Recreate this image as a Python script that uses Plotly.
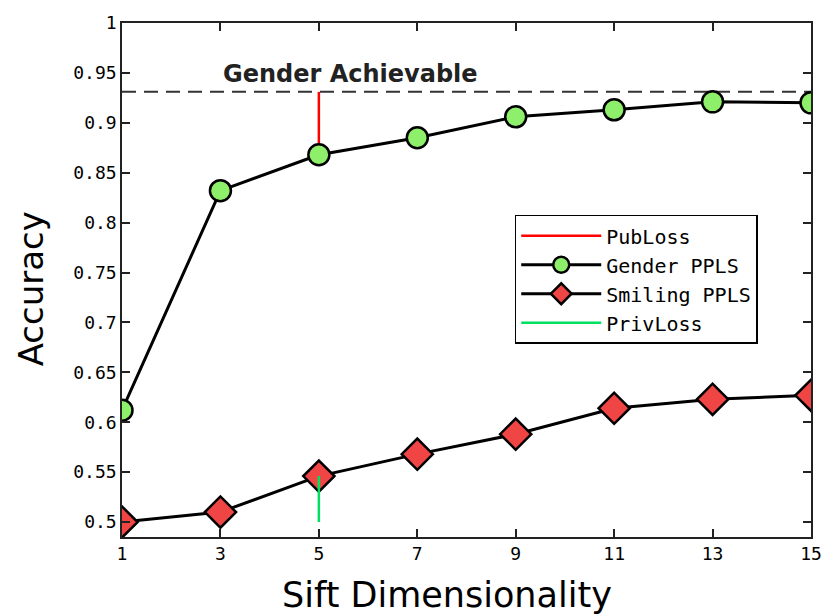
import plotly.graph_objects as go

dims = [1, 3, 5, 7, 9, 11, 13, 15]
gender_ppls = [0.612, 0.832, 0.868, 0.885, 0.906, 0.913, 0.921, 0.920]
smiling_ppls = [0.500, 0.510, 0.546, 0.568, 0.588, 0.614, 0.623, 0.627]
gender_achievable = 0.931
loss_dim = 5
smiling_floor = 0.5
x_ticks = [1, 3, 5, 7, 9, 11, 13, 15]
y_ticks = [0.5, 0.55, 0.6, 0.65, 0.7, 0.75, 0.8, 0.85, 0.9, 0.95, 1.0]
y_tick_text = ["0.5", "0.55", "0.6", "0.65", "0.7", "0.75", "0.8", "0.85", "0.9", "0.95", "1"]

idx = dims.index(loss_dim)

fig = go.Figure()

fig.add_trace(go.Scatter(x=[dims[0], dims[-1]], y=[gender_achievable, gender_achievable],
                         mode="lines", line=dict(color="#333333", width=2, dash="14px,8px"),
                         showlegend=False, hoverinfo="skip"))

fig.add_trace(go.Scatter(x=[loss_dim, loss_dim], y=[gender_achievable, gender_ppls[idx]],
                         mode="lines", name="PubLoss", line=dict(color="#ff0000", width=2.5),
                         legendrank=1))

fig.add_trace(go.Scatter(x=dims, y=gender_ppls, mode="lines+markers", name="Gender PPLS",
                         line=dict(color="black", width=3), legendrank=2,
                         marker=dict(symbol="circle", size=21, color="#8ef06a",
                                     line=dict(color="black", width=2.5))))

fig.add_trace(go.Scatter(x=dims, y=smiling_ppls, mode="lines+markers", name="Smiling PPLS",
                         line=dict(color="black", width=3), legendrank=3,
                         marker=dict(symbol="diamond", size=24, color="#f04545",
                                     line=dict(color="black", width=2.5))))

fig.add_trace(go.Scatter(x=[loss_dim, loss_dim], y=[smiling_floor, smiling_ppls[idx]],
                         mode="lines", name="PrivLoss", line=dict(color="#00e060", width=2.5),
                         legendrank=4))

fig.add_annotation(x=5.65, y=gender_achievable, xref="x", yref="y",
                   text="<b>Gender Achievable</b>", showarrow=False, yanchor="bottom",
                   xanchor="center", yshift=2,
                   font=dict(family="DejaVu Sans", size=24, color="#222222"))

fig.add_annotation(x=0.49, y=1.0, xref="paper", yref="paper", yshift=20,
                   text="<b>Gender (public) vs Smiling (private)</b>", showarrow=False,
                   yanchor="bottom", xanchor="center",
                   font=dict(family="DejaVu Sans", size=28, color="black"))

fig.add_annotation(x=0.471, y=-0.113, xref="paper", yref="paper",
                   text="Sift Dimensionality", showarrow=False,
                   xanchor="center", yanchor="middle",
                   font=dict(family="DejaVu Sans", size=35, color="black"))

fig.add_annotation(x=-0.132, y=0.482, xref="paper", yref="paper",
                   text="Accuracy", showarrow=False, textangle=-90,
                   xanchor="center", yanchor="middle",
                   font=dict(family="DejaVu Sans", size=34, color="black"))

fig.update_layout(
    width=834, height=616,
    margin=dict(l=122, r=14, t=20, b=79),
    paper_bgcolor="white", plot_bgcolor="white",
    showlegend=True,
    legend=dict(x=0.570, y=0.627, xanchor="left", yanchor="top",
                bgcolor="white", bordercolor="black", borderwidth=1.5,
                font=dict(family="DejaVu Sans Mono", size=20, color="black"),
                tracegroupgap=0, itemwidth=80, traceorder="normal"),
    xaxis=dict(range=[1, 15], tickvals=x_ticks, ticks="inside", ticklen=8, tickwidth=1.5,
               tickcolor="#222222", showline=True, linecolor="#222222", linewidth=1.5, mirror="ticks",
               showgrid=False, zeroline=False,
               tickfont=dict(family="DejaVu Sans Mono", size=18, color="black")),
    yaxis=dict(range=[0.485, 1.0], tickvals=y_ticks, ticktext=y_tick_text, ticks="inside",
               ticklen=8, tickwidth=1.5, tickcolor="#222222", showline=True, linecolor="#222222",
               linewidth=1.5, mirror="ticks", showgrid=False, zeroline=False,
               tickfont=dict(family="DejaVu Sans Mono", size=18, color="black")),
)

fig.write_html("out.html")
